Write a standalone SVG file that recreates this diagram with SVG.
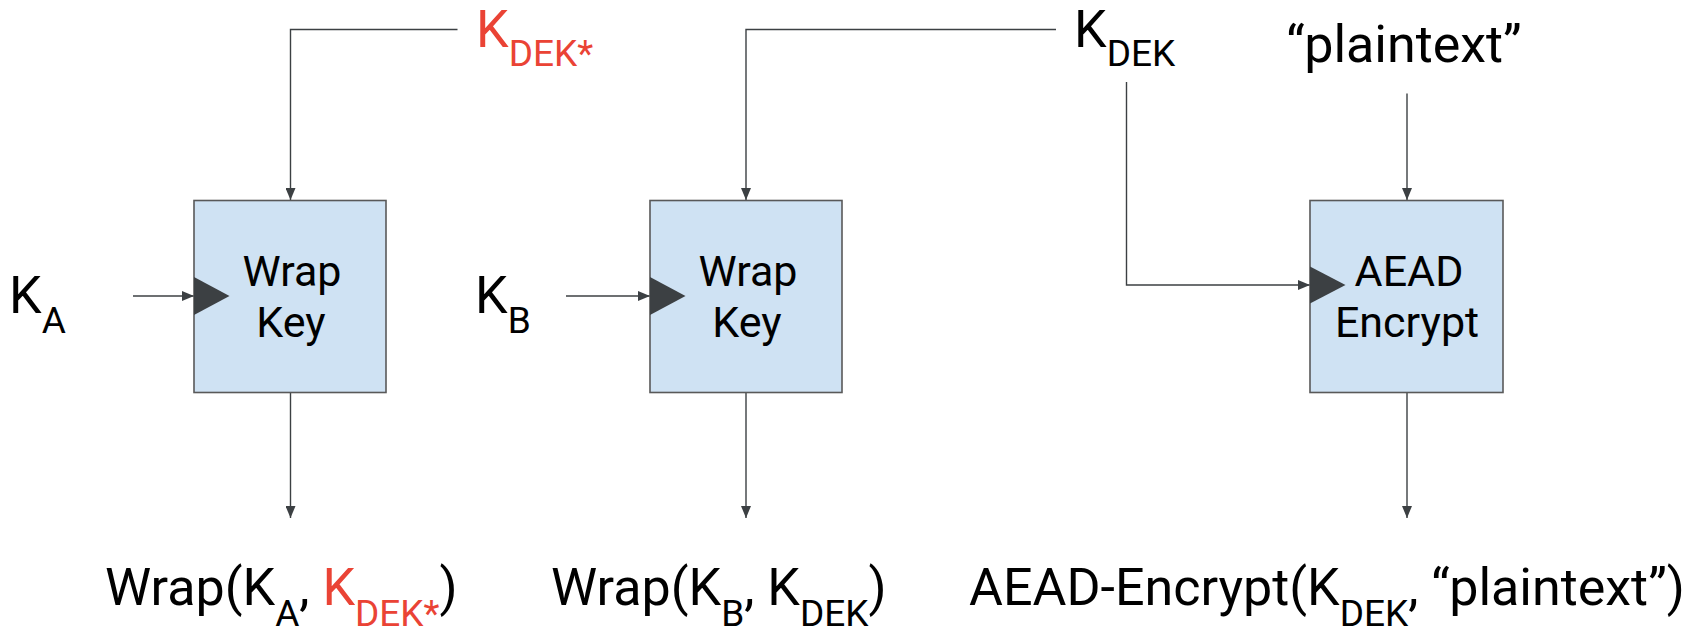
<svg xmlns="http://www.w3.org/2000/svg" width="1707" height="629" viewBox="0 0 1707 629">
  <style>
    .box { fill: #cfe2f3; stroke: #595959; stroke-width: 1.6; }
    .port { fill: #3c4043; }
    .wire { fill: none; stroke: #3c4043; stroke-width: 1.4; marker-end: url(#head); }
    .lbl { font-family: Roboto, "Liberation Sans", sans-serif; font-size: 52px; fill: #000; }
    .inbox { font-family: Roboto, "Liberation Sans", sans-serif; font-size: 43px; fill: #000; text-anchor: middle; }
    .sub { font-size: 37px; }
    .red { fill: #ea4335; }
  </style>
  <defs>
    <marker id="head" markerUnits="userSpaceOnUse" markerWidth="12" markerHeight="10" viewBox="0 0 12 10" refX="12" refY="5" orient="auto">
      <path d="M0,0 L12,5 L0,10 Z" fill="#3c4043"/>
    </marker>
  </defs>

  <rect width="1707" height="629" fill="#ffffff"/>

  <!-- connectors -->
  <g id="connectors">
    <path class="wire" d="M457.5,29.5 H290.5 V200"/>
    <path class="wire" d="M1056,29.5 H746 V200"/>
    <path class="wire" d="M1126.5,82 V285 H1310"/>
    <path class="wire" d="M1407,93.5 V200"/>
    <path class="wire" d="M133,296 H194"/>
    <path class="wire" d="M566,296 H650"/>
    <path class="wire" d="M290.5,392.5 V518"/>
    <path class="wire" d="M746,392.5 V518"/>
    <path class="wire" d="M1407,392.5 V518"/>
  </g>

  <!-- wrap key for K_A -->
  <g id="wrap-a">
    <rect class="box" x="194" y="200.5" width="192" height="192"/>
    <path class="port" d="M194,277 L229.5,296 L194,315 Z"/>
    <text class="inbox" x="292" y="285.5">Wrap</text>
    <text class="inbox" x="291" y="336.5">Key</text>
  </g>

  <!-- wrap key for K_B -->
  <g id="wrap-b">
    <rect class="box" x="650" y="200.5" width="192" height="192"/>
    <path class="port" d="M650,277 L685.5,296 L650,315 Z"/>
    <text class="inbox" x="748" y="285.5">Wrap</text>
    <text class="inbox" x="747" y="336.5">Key</text>
  </g>

  <!-- AEAD encrypt -->
  <g id="aead">
    <rect class="box" x="1310" y="200.5" width="193" height="192"/>
    <path class="port" d="M1310,266.5 L1345.5,285 L1310,303.5 Z"/>
    <text class="inbox" x="1409" y="285.5">AEAD</text>
    <text class="inbox" x="1407" y="336.5">Encrypt</text>
  </g>

  <!-- inputs -->
  <g id="in-kdek-star">
    <text class="lbl red" x="476" y="46.5">K<tspan class="sub" dy="19.5">DEK*</tspan></text>
  </g>
  <g id="in-kdek">
    <text class="lbl" x="1074" y="46.5">K<tspan class="sub" dy="19.5">DEK</tspan></text>
  </g>
  <g id="in-plaintext">
    <text class="lbl" x="1404" y="62" text-anchor="middle">“plaintext”</text>
  </g>
  <g id="in-ka">
    <text class="lbl" x="9" y="313">K<tspan class="sub" dy="20">A</tspan></text>
  </g>
  <g id="in-kb">
    <text class="lbl" x="475" y="313">K<tspan class="sub" dy="20">B</tspan></text>
  </g>

  <!-- outputs -->
  <g id="out-wrap-a">
    <text class="lbl" x="105" y="605">Wrap(K<tspan class="sub" dy="21">A</tspan><tspan dy="-21">, </tspan><tspan class="red">K</tspan><tspan class="sub red" dy="21">DEK*</tspan><tspan dy="-21">)</tspan></text>
  </g>
  <g id="out-wrap-b">
    <text class="lbl" x="551" y="605">Wrap(K<tspan class="sub" dy="21">B</tspan><tspan dy="-21">, K</tspan><tspan class="sub" dy="21">DEK</tspan><tspan dy="-21">)</tspan></text>
  </g>
  <g id="out-aead">
    <text class="lbl" x="969" y="605">AEAD-Encrypt(K<tspan class="sub" dy="21">DEK</tspan><tspan dy="-21">, “plaintext”)</tspan></text>
  </g>
</svg>
